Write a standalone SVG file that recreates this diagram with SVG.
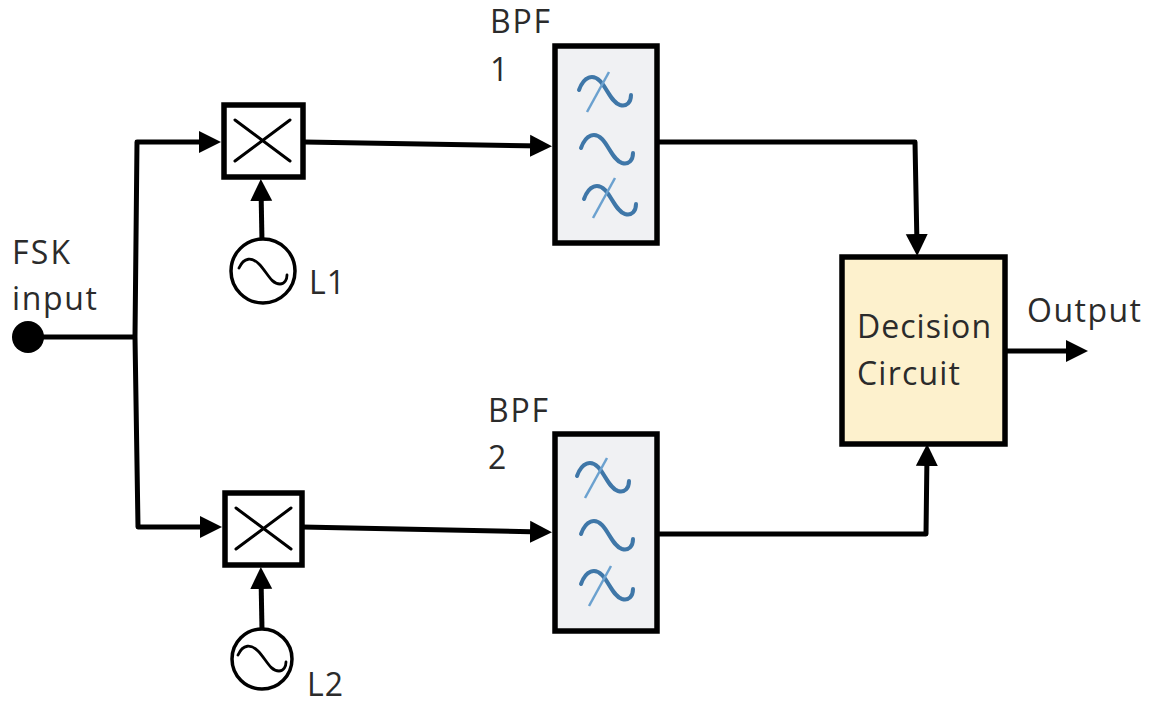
<svg xmlns="http://www.w3.org/2000/svg" width="1151" height="706" viewBox="0 0 1151 706">
<defs>
<marker id="arrow" markerUnits="userSpaceOnUse" markerWidth="24" markerHeight="24" refX="12" refY="12" orient="auto"><path d="M0 1L22 12L0 23Z" fill="#000"/></marker>
<path id="wave" d="M0 14C5 0 14 -2 21 5C28 12 32 26 41 29C48 31 52 26 52 19" fill="none" stroke="#3f77a8" stroke-width="4" stroke-linecap="round"/>
<path id="sine" d="M0 8C5 -3 13 -3 20 4C28 12 32 24 41 24C46 24 48 19 48 15" fill="none" stroke="#000" stroke-width="2.8" stroke-linecap="round"/>
</defs>
<style>
text{font-family:"Open Sans","Liberation Sans",sans-serif;font-size:32px;fill:#2b2b2b}
.w{fill:none;stroke:#000;stroke-width:5;stroke-linejoin:round;stroke-linecap:butt}
.a{marker-end:url(#arrow)}
.box{stroke:#000;stroke-width:5.5}
.bpf{fill:#f0f1f3}
.mix{fill:#fff}
.x{stroke:#000;stroke-width:3;fill:none;stroke-linecap:round}
.osc{fill:#fff;stroke:#000;stroke-width:3.5}
.tick{stroke:#6ba1cf;stroke-width:2.5;fill:none}
</style>
<rect width="1151" height="706" fill="#fff"/>
<g id="connectors">
<path class="w" d="M28 337H135"/>
<path class="w a" d="M135 337L137 142H211"/>
<path class="w a" d="M135 337L138 527H212"/>
<path class="w a" d="M304 142L542 146"/>
<path class="w a" d="M302 527L542 532"/>
<path class="w a" d="M262 242L261 189"/>
<path class="w a" d="M262 630L261 577"/>
<path class="w a" d="M658 142H915L917 246"/>
<path class="w a" d="M658 534H926L927 454"/>
<path class="w a" d="M1005 351H1078"/>
</g>
<g id="fsk-input"><circle cx="28" cy="337" r="16" fill="#000"/><text x="12" y="264" textLength="58">FSK</text><text x="12" y="310" textLength="85">input</text></g>
<g id="mixer1"><rect class="box mix" x="224" y="105" width="79" height="72"/><path class="x" d="M235 120L290 161M290 120L235 161"/></g>
<g id="mixer2"><rect class="box mix" x="225" y="493" width="77" height="72"/><path class="x" d="M236 508L291 549M291 508L236 549"/></g>
<g id="osc1"><circle class="osc" cx="263" cy="271" r="32"/><use href="#sine" x="239" y="260"/><text x="309" y="294" textLength="36">L1</text></g>
<g id="osc2"><circle class="osc" cx="262" cy="659" r="30"/><use href="#sine" x="238" y="647"/><text x="307" y="696" textLength="36">L2</text></g>
<g id="bpf1"><rect class="box bpf" x="555" y="46" width="102" height="197"/>
<use href="#wave" x="579" y="76"/><path class="tick" d="M587 112L609 72"/>
<use href="#wave" x="581" y="134"/>
<use href="#wave" x="584" y="185"/><path class="tick" d="M593 218L615 178"/>
<text x="490" y="33" textLength="60">BPF</text><text x="490" y="81">1</text></g>
<g id="bpf2"><rect class="box bpf" x="555" y="434" width="102" height="197"/>
<use href="#wave" x="577" y="462"/><path class="tick" d="M585 498L607 458"/>
<use href="#wave" x="581" y="520"/>
<use href="#wave" x="581" y="570"/><path class="tick" d="M589 606L611 566"/>
<text x="488" y="422" textLength="60">BPF</text><text x="488" y="469">2</text></g>
<g id="decision"><rect class="box" x="842" y="257" width="163" height="187" fill="#fdf1cd"/><text x="857" y="338" textLength="134">Decision</text><text x="857" y="385" textLength="103">Circuit</text></g>
<g id="output"><text x="1027" y="322" textLength="114">Output</text></g>
</svg>
